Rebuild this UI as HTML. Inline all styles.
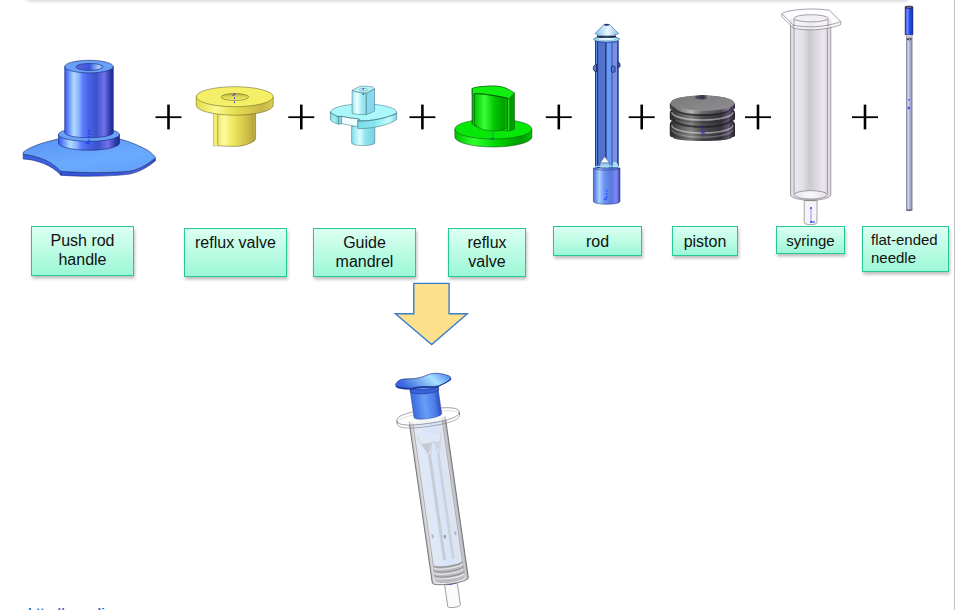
<!DOCTYPE html>
<html><head><meta charset="utf-8">
<style>
html,body{margin:0;padding:0;background:#fff;}
body{width:955px;height:610px;overflow:hidden;position:relative;font-family:"Liberation Sans",sans-serif;}
.topshadow{position:absolute;left:27px;top:-20px;width:881px;height:20px;background:#fff;box-shadow:0 1px 3.5px rgba(0,0,0,0.2);}
.rline{position:absolute;left:953.5px;top:0;width:1.5px;height:610px;background:#c4c4c4;}
.lbl{position:absolute;box-sizing:border-box;border:1.5px solid #24c994;background:linear-gradient(#dcfff2,#9cf8d6);box-shadow:1px 2.5px 3px rgba(0,0,0,0.26);color:#111;font-size:16px;line-height:19px;text-align:center;}
.lbl span{position:absolute;left:0;right:0;}
svg{position:absolute;left:0;top:0;}
.url{position:absolute;left:28px;top:605.5px;line-height:13px;font:bold 13px/13px "Liberation Sans",sans-serif;color:#1a6dc0;white-space:nowrap;}
</style></head><body>
<div class="topshadow"></div>
<div class="rline"></div>

<div class="lbl" style="left:31px;top:226px;width:103px;height:50px;"><span style="top:4px">Push rod<br>handle</span></div>
<div class="lbl" style="left:184px;top:228px;width:103px;height:49px;"><span style="top:4px">reflux valve</span></div>
<div class="lbl" style="left:313px;top:228px;width:103px;height:49px;"><span style="top:4px">Guide<br>mandrel</span></div>
<div class="lbl" style="left:448px;top:228px;width:78px;height:49px;"><span style="top:4px">reflux<br>valve</span></div>
<div class="lbl" style="left:553px;top:226px;width:89px;height:30px;"><span style="top:5px">rod</span></div>
<div class="lbl" style="left:672px;top:226px;width:66px;height:30px;"><span style="top:5px">piston</span></div>
<div class="lbl" style="left:776px;top:226px;width:69px;height:28px;font-size:15px;"><span style="top:4px">syringe</span></div>
<div class="lbl" style="left:862px;top:226px;width:87px;height:46px;font-size:15px;line-height:17.5px;text-align:left;"><span style="top:4px;left:8px">flat-ended<br>needle</span></div>

<svg width="955" height="610" viewBox="0 0 955 610">
<defs>
  <linearGradient id="gBlueCyl" x1="0" x2="1" y1="0" y2="0">
    <stop offset="0" stop-color="#3858e8"/>
    <stop offset="0.04" stop-color="#4a70ff"/>
    <stop offset="0.19" stop-color="#b0dcff"/>
    <stop offset="0.3" stop-color="#8ab0ff"/>
    <stop offset="0.37" stop-color="#5a7cff"/>
    <stop offset="0.48" stop-color="#4a64e8"/>
    <stop offset="0.65" stop-color="#3a54cc"/>
    <stop offset="0.81" stop-color="#7272ec"/>
    <stop offset="0.935" stop-color="#2c3aa8"/>
    <stop offset="1" stop-color="#1a2a90"/>
  </linearGradient>
  <linearGradient id="gBlueTop" x1="0" x2="1" y1="0" y2="1">
    <stop offset="0" stop-color="#5f94f2"/>
    <stop offset="1" stop-color="#7ab0ff"/>
  </linearGradient>
  <linearGradient id="gBlueHole" x1="0" x2="1">
    <stop offset="0" stop-color="#6a66e6"/>
    <stop offset="0.5" stop-color="#3458d8"/>
    <stop offset="0.85" stop-color="#a6d0ff"/>
    <stop offset="1" stop-color="#6a90f0"/>
  </linearGradient>
  <linearGradient id="gFlangeTop" x1="0.2" x2="0.8" y1="0" y2="1">
    <stop offset="0" stop-color="#5a94f4"/>
    <stop offset="0.6" stop-color="#6aaafe"/>
    <stop offset="1" stop-color="#64a2fc"/>
  </linearGradient>
  <linearGradient id="gFlangeRim" x1="0" x2="1">
    <stop offset="0" stop-color="#3454dc"/>
    <stop offset="0.6" stop-color="#3a5ae0"/>
    <stop offset="0.85" stop-color="#5060e4"/>
    <stop offset="1" stop-color="#2a40c0"/>
  </linearGradient>
  <linearGradient id="gYelRim" x1="0" x2="1">
    <stop offset="0" stop-color="#e4dc48"/>
    <stop offset="0.25" stop-color="#fcf890"/>
    <stop offset="0.5" stop-color="#e6de52"/>
    <stop offset="0.85" stop-color="#c8b848"/>
    <stop offset="1" stop-color="#dccc50"/>
  </linearGradient>
  <linearGradient id="gYelCyl" x1="0" x2="1">
    <stop offset="0" stop-color="#e0d850"/>
    <stop offset="0.25" stop-color="#fffca0"/>
    <stop offset="0.45" stop-color="#f0e860"/>
    <stop offset="0.75" stop-color="#d4c44a"/>
    <stop offset="0.95" stop-color="#b8a840"/>
    <stop offset="1" stop-color="#c8b848"/>
  </linearGradient>
  <linearGradient id="gYelHole" x1="0" x2="0" y1="0" y2="1">
    <stop offset="0" stop-color="#b8ae38"/>
    <stop offset="0.5" stop-color="#e0d850"/>
    <stop offset="1" stop-color="#f6f070"/>
  </linearGradient>
  <linearGradient id="gCyanRim" x1="0" x2="1">
    <stop offset="0" stop-color="#7fd9e6"/>
    <stop offset="0.25" stop-color="#c8fbff"/>
    <stop offset="0.55" stop-color="#86e2ee"/>
    <stop offset="0.85" stop-color="#6cc9d8"/>
    <stop offset="1" stop-color="#a8eef6"/>
  </linearGradient>
  <linearGradient id="gGreenRim" x1="0" x2="1">
    <stop offset="0" stop-color="#00c000"/>
    <stop offset="0.25" stop-color="#30ff30"/>
    <stop offset="0.55" stop-color="#00d400"/>
    <stop offset="0.85" stop-color="#009c00"/>
    <stop offset="1" stop-color="#00c000"/>
  </linearGradient>
  <linearGradient id="gGreenRim2" x1="0" x2="1">
    <stop offset="0" stop-color="#00c800"/>
    <stop offset="0.5" stop-color="#00d800"/>
    <stop offset="0.85" stop-color="#20e820"/>
    <stop offset="0.9" stop-color="#009000"/>
    <stop offset="1" stop-color="#00a800"/>
  </linearGradient>
  <linearGradient id="gGreenCyl" x1="0" x2="1">
    <stop offset="0" stop-color="#00c800"/>
    <stop offset="0.3" stop-color="#38ff38"/>
    <stop offset="0.6" stop-color="#00c800"/>
    <stop offset="0.9" stop-color="#00a000"/>
    <stop offset="1" stop-color="#10b810"/>
  </linearGradient>
  <linearGradient id="gRodBody" x1="0" x2="1">
    <stop offset="0" stop-color="#3048b8"/>
    <stop offset="0.12" stop-color="#5f8af0"/>
    <stop offset="0.45" stop-color="#4a6cd8"/>
    <stop offset="0.8" stop-color="#4a62d0"/>
    <stop offset="1" stop-color="#2a3a9a"/>
  </linearGradient>
  <linearGradient id="gCone" x1="0" x2="1">
    <stop offset="0" stop-color="#80c4ee"/>
    <stop offset="0.55" stop-color="#eafaff"/>
    <stop offset="1" stop-color="#8cbcee"/>
  </linearGradient>
  <linearGradient id="gPiston" x1="0" x2="1">
    <stop offset="0" stop-color="#3a3a3c"/>
    <stop offset="0.2" stop-color="#8c8c8c"/>
    <stop offset="0.33" stop-color="#b4b4b4"/>
    <stop offset="0.5" stop-color="#6a6a6c"/>
    <stop offset="0.78" stop-color="#4c4652"/>
    <stop offset="0.9" stop-color="#85769a"/>
    <stop offset="1" stop-color="#322c38"/>
  </linearGradient>
  <linearGradient id="gRingShade" gradientUnits="userSpaceOnUse" x1="0" x2="0" y1="114.5" y2="124.8">
    <stop offset="0" stop-color="#000" stop-opacity="0.55"/>
    <stop offset="0.35" stop-color="#000" stop-opacity="0.25"/>
    <stop offset="0.55" stop-color="#fff" stop-opacity="0.5"/>
    <stop offset="0.72" stop-color="#000" stop-opacity="0.1"/>
    <stop offset="1" stop-color="#000" stop-opacity="0.5"/>
  </linearGradient>
  <linearGradient id="gPistonHole" x1="0" x2="1">
    <stop offset="0" stop-color="#5a4a68"/>
    <stop offset="0.6" stop-color="#3a3840"/>
    <stop offset="1" stop-color="#a8a8aa"/>
  </linearGradient>
  <linearGradient id="gPistonTop" x1="0" x2="1" y1="0" y2="1">
    <stop offset="0" stop-color="#7a7a7c"/>
    <stop offset="1" stop-color="#8e8e90"/>
  </linearGradient>
  <linearGradient id="gGlass" x1="0" x2="1">
    <stop offset="0" stop-color="#dcd8de"/>
    <stop offset="0.1" stop-color="#ebe7ee"/>
    <stop offset="0.3" stop-color="#e4e0e8"/>
    <stop offset="0.48" stop-color="#c9c9cc"/>
    <stop offset="0.6" stop-color="#d8d6da"/>
    <stop offset="0.8" stop-color="#ede5ef"/>
    <stop offset="1" stop-color="#dcd6de"/>
  </linearGradient>
  <linearGradient id="gNeedle" x1="0" x2="1">
    <stop offset="0" stop-color="#9498b4"/>
    <stop offset="0.35" stop-color="#ccd2f0"/>
    <stop offset="0.7" stop-color="#a8a8cc"/>
    <stop offset="1" stop-color="#8a82aa"/>
  </linearGradient>
  <linearGradient id="gNeedleCap" x1="0" x2="1">
    <stop offset="0" stop-color="#1e3ad0"/>
    <stop offset="0.3" stop-color="#6a90ff"/>
    <stop offset="0.55" stop-color="#2a4ee8"/>
    <stop offset="1" stop-color="#1a30b0"/>
  </linearGradient>
  <linearGradient id="gAsmGlass" x1="0" x2="1">
    <stop offset="0" stop-color="#e4e8ee"/>
    <stop offset="0.25" stop-color="#dce8fa"/>
    <stop offset="0.7" stop-color="#d6e4f8"/>
    <stop offset="1" stop-color="#dfe4ec"/>
  </linearGradient>
  <linearGradient id="gAsmWall" x1="0" x2="1">
    <stop offset="0" stop-color="#b8b8bc"/>
    <stop offset="0.1" stop-color="#f0f0f2"/>
    <stop offset="0.88" stop-color="#e8e8ec"/>
    <stop offset="1" stop-color="#a8a8ae"/>
  </linearGradient>
  <linearGradient id="gAsmBlue" x1="0" x2="1">
    <stop offset="0" stop-color="#3a6ae0"/>
    <stop offset="0.45" stop-color="#6a9ef6"/>
    <stop offset="0.8" stop-color="#4a7ce8"/>
    <stop offset="1" stop-color="#2a50c0"/>
  </linearGradient>
  <linearGradient id="gSaddle" x1="0" x2="1" y1="0.3" y2="0">
    <stop offset="0" stop-color="#3a68e0"/>
    <stop offset="0.6" stop-color="#a8e2ff"/>
    <stop offset="1" stop-color="#3c74e8"/>
  </linearGradient>
  <linearGradient id="gRodCyl" x1="0" x2="1">
    <stop offset="0" stop-color="#4a6ad8"/>
    <stop offset="0.22" stop-color="#a8d0ff"/>
    <stop offset="0.42" stop-color="#6a90f0"/>
    <stop offset="0.68" stop-color="#5878e0"/>
    <stop offset="0.86" stop-color="#8088f0"/>
    <stop offset="1" stop-color="#3a48b8"/>
  </linearGradient>
  <linearGradient id="gGlassBot" x1="0" x2="1">
    <stop offset="0" stop-color="#e6e4ea"/>
    <stop offset="0.5" stop-color="#f8f8f8"/>
    <stop offset="1" stop-color="#e8dcea"/>
  </linearGradient>
  <linearGradient id="gCyanCyl" x1="0" x2="1">
    <stop offset="0" stop-color="#80dce8"/>
    <stop offset="0.35" stop-color="#d8ffff"/>
    <stop offset="0.6" stop-color="#90e4ee"/>
    <stop offset="1" stop-color="#78d0e0"/>
  </linearGradient>
  <linearGradient id="gCyanRimL" x1="0" x2="1">
    <stop offset="0" stop-color="#80dce8"/>
    <stop offset="0.5" stop-color="#a8f0f8"/>
    <stop offset="1" stop-color="#70c8d8"/>
  </linearGradient>
  <linearGradient id="gCyanRimR" x1="0" x2="1">
    <stop offset="0" stop-color="#7cdce8"/>
    <stop offset="0.45" stop-color="#8ae6f0"/>
    <stop offset="0.8" stop-color="#c4feff"/>
    <stop offset="1" stop-color="#80d4e4"/>
  </linearGradient>
  <linearGradient id="gCyanBlock" x1="0" x2="1">
    <stop offset="0" stop-color="#98e6f0"/>
    <stop offset="0.35" stop-color="#f0ffff"/>
    <stop offset="0.65" stop-color="#a8eef4"/>
    <stop offset="1" stop-color="#84dae6"/>
  </linearGradient>
  <linearGradient id="gRingShade3" gradientUnits="userSpaceOnUse" x1="0" x2="0" y1="126" y2="141.2">
    <stop offset="0" stop-color="#000" stop-opacity="0.55"/>
    <stop offset="0.25" stop-color="#000" stop-opacity="0.3"/>
    <stop offset="0.45" stop-color="#fff" stop-opacity="0.45"/>
    <stop offset="0.58" stop-color="#000" stop-opacity="0.15"/>
    <stop offset="0.75" stop-color="#fff" stop-opacity="0.25"/>
    <stop offset="1" stop-color="#000" stop-opacity="0.5"/>
  </linearGradient>
</defs>

<!-- plus signs -->
<g stroke="#000" fill="none">
  <g id="plus1"><path d="M155.5 117.2H181.5" stroke-width="1.8"/><path d="M168.5 104.6V129.4" stroke-width="2.6"/></g>
  <use href="#plus1" x="132.8"/>
  <use href="#plus1" x="253.9"/>
  <use href="#plus1" x="390.3"/>
  <use href="#plus1" x="473.2"/>
  <use href="#plus1" x="589.5"/>
  <use href="#plus1" x="696.5"/>
</g>

<!-- Part 1: push rod handle -->
<g stroke="#1a2a70" stroke-width="0.6">
  <!-- flange thickness/front -->
  <path d="M60.8 171.2 C80 173 110 173.2 129.5 171.2 C140 169.5 150 163 155.4 157.9 V160.8 C150 165.5 140 172 129.5 174.1 C110 176.6 80 176.8 60.8 175.2 Z" fill="url(#gFlangeRim)"/>
  <path d="M23.2 154.2 C44 157 54 164 60.8 171.2 V175.2 C52 165 36 159.5 23.2 159 Z" fill="#3a60e6"/>
  <!-- flange top -->
  <path d="M23.2 152.3 C28 148 40 143 58.2 139 C80 135.5 100 135.5 119.9 139.1 C130 141.5 140 146 148 150.5 C151 152.5 153.5 155 155.4 157.3 C150 163 140 169.5 129.5 171.2 C110 173.2 80 173 60.8 171.2 C54 164 44 157 23.2 154.2 Z" fill="url(#gFlangeTop)"/>
  <!-- collar -->
  <path d="M58.5 134.5 V143 A30.5 7.2 0 0 0 119.5 143 V134.5 Z" fill="url(#gBlueCyl)"/>
  <ellipse cx="89" cy="134.5" rx="30.5" ry="6.8" fill="#6aa2fa"/>
  <!-- tall cylinder -->
  <path d="M64.7 66.6 V132.6 A24.3 5.2 0 0 0 113.3 132.6 V66.6 Z" fill="url(#gBlueCyl)"/>
  <ellipse cx="89" cy="66.6" rx="24.3" ry="6.3" fill="#68a0f8"/>
  <ellipse cx="89.5" cy="66.9" rx="13.5" ry="3.5" fill="url(#gBlueHole)"/>
  <path d="M89 130 V142" stroke="#1030ff" stroke-width="1.1" stroke-dasharray="1.6 1.6"/><path d="M85.5 143 H89.5" stroke="#1030ff" stroke-width="1.1"/>
</g>

<!-- Part 2: yellow reflux valve -->
<g stroke="#5a5418" stroke-width="0.5">
  <path d="M213.5 108 V145.8 H219.9 C225 146 230 146.5 237 146.3 C245 146 251 143 255 140.4 L255.6 138 V108 Z" fill="url(#gYelCyl)"/>
  <rect x="213.5" y="108" width="4.3" height="37.8" fill="#f2ee74" stroke="none"/>
  <path d="M217.8 112 V145" stroke="#7a7428" stroke-width="0.6" fill="none"/>
  <path d="M196.2 96.7 V105.2 A38.5 10 0 0 0 273.2 105.2 V96.7 Z" fill="url(#gYelRim)"/>
  <ellipse cx="234.7" cy="96.7" rx="38.5" ry="10" fill="#f5ef68"/>
  <ellipse cx="234.85" cy="97" rx="13.85" ry="3.5" fill="url(#gYelHole)"/>
  <path d="M234.5 93.5 V103" stroke="#2030d0" stroke-width="1" stroke-dasharray="1.6 2.4"/>
  <path d="M232.5 95.5 L235 94.5" stroke="#2030d0" stroke-width="0.9"/>
</g>

<!-- Part 3: cyan guide mandrel -->
<g stroke="#3a6a78" stroke-width="0.5">
  <path d="M351.6 126 V143 A11.6 2.6 0 0 0 374.8 143 V126 Z" fill="url(#gCyanCyl)"/>
  <!-- disc top face -->
  <ellipse cx="363.5" cy="112.5" rx="33.2" ry="8.6" fill="#aaf8fc"/>
  <!-- left rim piece -->
  <path d="M330.3 112 V120 C332 122 335 123.2 338.8 124.2 V116.5 C335 115.5 332 114 330.3 112 Z" fill="url(#gCyanRimL)"/>
  <path d="M338.8 116.5 L341.5 116.3 V124 L338.8 124.2 Z" fill="#90dcf0"/>
  <!-- white notch face -->
  <path d="M341.5 116.3 C347 117.5 353 118.5 359.3 119 L357.8 120.9 V126.7 C352 125.7 346 124.6 341.5 123.3 Z" fill="#f0feff"/>
  <!-- right rim piece -->
  <path d="M357.8 120.9 C370 121.5 388 118 396.7 113.2 V119.4 C390 125 372 128.8 357.8 128.7 Z" fill="url(#gCyanRimR)"/>
  <path d="M330.3 112 C332 114 335 115.5 337.6 116.7 C339 116.3 340 116.2 341.5 116.3 C347 117.5 353 118.5 359.3 119 L357.8 120.9 C370 121.5 388 118 396.7 113.2" fill="none"/>
  <!-- top block -->
  <path d="M366.2 92.9 L374.5 88.8 V111.2 L366.2 114.7 Z" fill="#8ad8ee"/>
  <path d="M352.1 90.3 C355 91.8 360 92.9 366.2 92.9 V114.7 C360 114.7 355 114.3 352.1 113.2 Z" fill="url(#gCyanBlock)"/>
  <path d="M352.1 90.3 L359.7 86.4 C364 86 369 86.2 372.7 87 L374.5 88.8 L366.2 92.9 C360 92.9 355 91.8 352.1 90.3 Z" fill="#b8f4f8"/>
  <ellipse cx="363.4" cy="89.6" rx="4.2" ry="1.2" fill="#d8fcff" stroke="#4a8a98"/>
  <path d="M363.2 88 V97" stroke="#1040f0" stroke-width="1" stroke-dasharray="2 3"/>
</g>

<!-- Part 4: green reflux valve -->
<g stroke="#0a4a0a" stroke-width="0.5">
  <path d="M454.8 129 V137 A38.55 10 0 0 0 531.9 137 V129 Z" fill="url(#gGreenRim)"/>
  <ellipse cx="493.35" cy="129" rx="38.55" ry="10" fill="#08e808"/>
  <!-- back half + slab -->
  <path d="M472.2 88.5 C475 87 480 86.8 485.5 86.3 C490 86 495 85.8 498 86.3 C504 87 509 89 511 92 L514.5 93 V129 C512 130.5 509.5 131 507.5 131 L474.5 126 L472.2 124 Z" fill="url(#gGreenRim2)"/>
  <path d="M472.2 88.5 V95 L507.5 100 L514.5 93 C509 89 504 87 498 86.3 C495 85.8 490 86 485.5 86.3 C480 86.8 475 87 472.2 88.5 Z" fill="#10f010"/>
  <path d="M507.5 99 V131" fill="none" stroke="#0a5a0a" stroke-width="0.6"/>
  <!-- front half -->
  <path d="M474.5 93.5 V124 C478 129 486 131 493 131 C499 131 504 130 507.5 128 V98 C500 96.5 488 94 474.5 93.5 Z" fill="url(#gGreenCyl)"/>
  <path d="M474.5 93.5 C486 94 500 96.5 507.5 98.5" fill="none" stroke="#064006" stroke-width="0.7"/>
  <path d="M472.2 88.5 V124" fill="none"/>
  <path d="M493 132 V139" stroke="#1040c0" stroke-width="0.8" stroke-dasharray="1.2 1.2"/>
  <path d="M490.5 139 H494" stroke="#1040c0" stroke-width="0.9"/>
</g>

<!-- Part 5: rod -->
<g>
  <rect x="595.3" y="41" width="23.2" height="127" fill="#5272cc"/>
  <rect x="595.3" y="41" width="2" height="127" fill="#5a90e8"/>
  <rect x="606.4" y="41" width="4.8" height="127" fill="#6a9af8"/>
  <rect x="611.2" y="41" width="1.8" height="127" fill="#5870b0"/>
  <rect x="613" y="41" width="4.4" height="127" fill="#7a8ef0"/>
  <g fill="#1a2660">
    <rect x="595" y="41" width="0.8" height="127"/>
    <rect x="597.2" y="41" width="0.9" height="127"/>
    <rect x="605.3" y="41" width="1.1" height="127"/>
    <rect x="617.4" y="41" width="1.1" height="127"/>
  </g>
  <g fill="#5a78d8" stroke="#101c50" stroke-width="0.8">
    <path d="M596.5 64.4 C594 64.6 593.3 67 593.3 68.5 C593.3 70.5 594.5 71.5 596.5 71.5 Z"/>
    <path d="M611.4 67 C611.4 65.8 615 65.8 615 67 V71.5 C615 72.5 611.4 72.5 611.4 71.5 Z"/>
    <path d="M618.2 62 C619.5 62.2 620.1 64 620.1 65 C620.1 66.8 619.5 67.7 618.2 67.7 Z"/>
  </g>
  <ellipse cx="606.6" cy="39.3" rx="13.1" ry="2.8" fill="#9ee0f2" stroke="#23347a" stroke-width="0.6"/>
  <ellipse cx="606.6" cy="39" rx="9.5" ry="1.6" fill="#e0f6ff" stroke="#5a9ac0" stroke-width="0.4"/>
  <path d="M596 41.5 C600 43 613 43 618 41.5" stroke="#3a5ac0" stroke-width="1" fill="none"/>
  <path d="M597 36 C600 37.5 613 37.5 616 36" stroke="#101c40" stroke-width="1.4" fill="none"/>
  <path d="M595 33.6 L603.8 24.6 C605 24 608.5 24 609.7 24.6 L618.6 33.6 C614 36.5 599 36.5 595 33.6 Z" fill="url(#gCone)" stroke="#2a4a8a" stroke-width="0.5"/>
  <ellipse cx="606.75" cy="24.8" rx="2.9" ry="0.9" fill="#1a2a70"/>
  <path d="M600 163 L604.8 156.6 L609.4 163 Z" fill="#f4fbff" stroke="#2a3a7a" stroke-width="0.4"/>
  <rect x="600" y="163" width="9.4" height="5.5" fill="#9ec8f0" stroke="#2a3a7a" stroke-width="0.4"/>
  <path d="M613 162 C616 161 618 163 618.5 167 H613 Z" fill="#a0e0f0"/>
  <path d="M593.4 168 V201.5 A13.3 2.8 0 0 0 620 201.5 V168 Z" fill="url(#gRodCyl)" stroke="#1a2a6a" stroke-width="0.5"/>
  <path d="M593.4 168 A13.3 2.2 0 0 0 620 168" fill="none" stroke="#2a3a8a" stroke-width="0.6"/>
  <path d="M594 167.5 A13 2 0 0 1 619.4 167.5" fill="none" stroke="#a8e4f4" stroke-width="1.2"/>
  <path d="M606.8 190 V199" stroke="#1030ff" stroke-width="1" stroke-dasharray="1.5 1.5"/>
  <path d="M604 199 H607" stroke="#1030ff" stroke-width="1"/>
</g>

<!-- Part 6: piston -->
<g>
  <path d="M674.30 116.8 V121.5 A28.10 7.70 0 0 0 730.50 121.5 V116.8 A28.10 7.70 0 0 0 674.30 116.8 Z" fill="#2e2c32"/>
  <path d="M674.30 118.80 C671.38 120.90 669.80 122.40 669.80 124.80 V134.80 C669.80 136.55 671.30 137.30 672.80 137.30 A29.60 3.70 0 0 0 732.00 137.30 C733.50 137.30 735.00 136.55 735.00 134.80 V124.80 C735.00 122.40 733.42 120.90 730.50 118.80 A28.10 7.70 0 0 0 674.30 118.80 Z" fill="url(#gPiston)"/>
  <path d="M674.30 118.80 C671.38 120.90 669.80 122.40 669.80 124.80 V134.80 C669.80 136.55 671.30 137.30 672.80 137.30 A29.60 3.70 0 0 0 732.00 137.30 C733.50 137.30 735.00 136.55 735.00 134.80 V124.80 C735.00 122.40 733.42 120.90 730.50 118.80 A28.10 7.70 0 0 0 674.30 118.80 Z" fill="#000" fill-opacity="0.28"/>
  <path d="M671.80 125.3 A30.60 7.7 0 0 0 733.00 125.3" fill="none" stroke="#fff" stroke-width="1.6" stroke-opacity="0.45"/>
  <path d="M671.80 129.5 A30.60 7.7 0 0 0 733.00 129.5" fill="none" stroke="#fff" stroke-width="1.2" stroke-opacity="0.25"/>
  <path d="M671.80 132.0 A30.60 7.7 0 0 0 733.00 132.0" fill="none" stroke="#000" stroke-width="1.0" stroke-opacity="0.2"/>
  <path d="M674.30 105.8 V110.5 A28.10 7.70 0 0 0 730.50 110.5 V105.8 A28.10 7.70 0 0 0 674.30 105.8 Z" fill="#2e2c32"/>
  <path d="M674.30 107.30 C671.38 109.40 669.80 110.90 669.80 113.30 V118.30 C669.80 120.05 671.30 120.80 672.80 120.80 A29.60 3.70 0 0 0 732.00 120.80 C733.50 120.80 735.00 120.05 735.00 118.30 V113.30 C735.00 110.90 733.42 109.40 730.50 107.30 A28.10 7.70 0 0 0 674.30 107.30 Z" fill="url(#gPiston)"/>
  <path d="M674.30 107.30 C671.38 109.40 669.80 110.90 669.80 113.30 V118.30 C669.80 120.05 671.30 120.80 672.80 120.80 A29.60 3.70 0 0 0 732.00 120.80 C733.50 120.80 735.00 120.05 735.00 118.30 V113.30 C735.00 110.90 733.42 109.40 730.50 107.30 A28.10 7.70 0 0 0 674.30 107.30 Z" fill="#000" fill-opacity="0.28"/>
  <path d="M671.80 112.3 A30.60 7.7 0 0 0 733.00 112.3" fill="none" stroke="#fff" stroke-width="1.6" stroke-opacity="0.45"/>
  <path d="M671.80 114.6 A30.60 7.7 0 0 0 733.00 114.6" fill="none" stroke="#000" stroke-width="1.0" stroke-opacity="0.25"/>
  <path d="M670.60 103.00 C670.08 103.28 669.80 103.48 669.80 103.80 V107.50 C669.80 109.25 671.30 110.00 672.80 110.00 A29.60 3.70 0 0 0 732.00 110.00 C733.50 110.00 735.00 109.25 735.00 107.50 V103.80 C735.00 103.48 734.72 103.28 734.20 103.00 A31.80 7.70 0 0 0 670.60 103.00 Z" fill="url(#gPiston)"/>
  <path d="M673.30 107.6 A29.10 7.7 0 0 0 731.50 107.6" fill="none" stroke="#1a1a1e" stroke-width="1.6" stroke-opacity="0.7"/>
  <path d="M673.30 119.2 A29.10 7.7 0 0 0 731.50 119.2" fill="none" stroke="#1a1a1e" stroke-width="1.8" stroke-opacity="0.7"/>
  <ellipse cx="702.4" cy="102.9" rx="31.8" ry="7.5" fill="url(#gPistonTop)"/>
  <path d="M670.8 103.5 A31.6 7.2 0 0 0 734.0 103.5" fill="none" stroke="#a8a8a8" stroke-width="0.6" opacity="0.7"/>
  <ellipse cx="702.2" cy="97.2" rx="7.5" ry="2.2" fill="url(#gPistonHole)"/>
  <path d="M702.2 127 V133" stroke="#2020ff" stroke-width="0.9" stroke-dasharray="1.2 1.2"/>
  <path d="M701.5 133 H705" stroke="#2020ff" stroke-width="0.9"/>
</g>

<!-- Part 7: syringe -->
<g stroke="#6e6874" stroke-width="0.6">
  <path d="M804.2 199 V222.5 A6.4 2.2 0 0 0 817 222.5 V199 Z" fill="#f6f4f8"/>
  <path d="M790.5 20 V195.2 A20.2 5.5 0 0 0 830.8 195.2 V20 Z" fill="url(#gGlass)"/>
  <path d="M794.1 24 V194 M827.4 24 V194" fill="none"/>
  <ellipse cx="810.7" cy="194.8" rx="16.6" ry="4.2" fill="url(#gGlassBot)"/>
  <path d="M805 200.5 H816.5" stroke="#8a8a8a" stroke-width="1.2"/>
  <path d="M781.9 13.6 C784 11 800 9 811.5 9 C818 9 825 9.4 829.6 10.3 L840.7 21.5 V24.5 C836 27 822 29.8 811.5 29.8 C804 29.8 797 29 793.3 28.2 L781.9 16.6 Z" fill="#fbfafc" fill-opacity="0.7" stroke="none"/>
  <path d="M781.9 13.6 C784 11 800 9 811.5 9 C818 9 825 9.4 829.6 10.3 L840.7 21.5 C836 24 822 26.8 811.5 26.8 C804 26.8 797 26 793.3 25.2 Z" fill="none"/>
  <path d="M781.9 13.6 V16.6 L793.3 28.2 C797 29 804 29.8 811.5 29.8 C822 29.8 836 27 840.7 24.5 V21.5 M793.3 25.2 V28.2" fill="none"/>
  <path d="M794 18.3 V26 M828 18.3 V26" fill="none"/>
  <ellipse cx="811" cy="18.3" rx="17" ry="3.6" fill="#f2f0f4"/>
  <path d="M811 208 V222" stroke="#7070ff" stroke-width="0.7"/>
  <circle cx="811" cy="208" r="0.9" fill="#2030ff" stroke="none"/>
  <circle cx="811" cy="222" r="0.9" fill="#2030ff" stroke="none"/>
  <path d="M811 222 H815" stroke="#2030ff" stroke-width="1"/>
</g>

<!-- Part 8: needle -->
<g>
  <rect x="906.3" y="35" width="5.8" height="175" fill="url(#gNeedle)" stroke="#55556a" stroke-width="0.4"/>
  <path d="M906 209.5 A3.1 1.2 0 0 0 912.2 209.5" fill="#6a6a80" stroke="#444" stroke-width="0.5"/>
  <rect x="906.5" y="35" width="5.4" height="2.5" fill="#c8c8d4"/>
  <ellipse cx="909.2" cy="39.2" rx="2.3" ry="1" fill="#222" />
  <ellipse cx="909.5" cy="39.2" rx="1" ry="0.5" fill="#ddd" />
  <rect x="905" y="7" width="8" height="27.8" fill="url(#gNeedleCap)" stroke="#1a1a50" stroke-width="0.4"/>
  <ellipse cx="909" cy="7.2" rx="4" ry="1.3" fill="#3a3a48" stroke="#111" stroke-width="0.4"/>
  <ellipse cx="909" cy="7.5" rx="2.4" ry="0.7" fill="#5a6ab0"/>
  <path d="M909 99 V108" stroke="#2020ff" stroke-width="1.1" stroke-dasharray="1.5 6"/>
  <path d="M907.8 107.8 L909.5 109" stroke="#2020ff" stroke-width="1.2"/>
</g>

<!-- down arrow -->
<path d="M413.8 283.4 H449.1 V313.7 H467.3 L431.7 344.5 L395.4 313.7 H413.8 Z" fill="#fde08c" stroke="#3b7ccc" stroke-width="1.4" stroke-linejoin="miter"/>

<!-- assembled syringe -->
<g transform="translate(427.75,425) rotate(-8.17)">
  <!-- nozzle -->
  <path d="M-6 158 V182.5 A6.4 1.8 0 0 0 6.8 182.5 V158 Z" fill="#fafafa" stroke="#6a6a6e" stroke-width="0.6"/>
  <ellipse cx="0.4" cy="160" rx="6" ry="1.5" fill="#3050a0"/>
  <!-- barrel outer -->
  <path d="M-18 -6 V157 A18 3.5 0 0 0 18.5 157 V-6 Z" fill="url(#gAsmWall)" stroke="none"/>
  <path d="M-18 -6 V157 A18 3.5 0 0 0 18.5 157 V-6" fill="none" stroke="#55555c" stroke-width="0.7"/>
  <!-- interior -->
  <path d="M-14.5 -4 V153 A14.5 3 0 0 0 15 153 V-4 Z" fill="url(#gAsmGlass)" stroke="none"/>
  <path d="M-14.5 -4 V153 M15 153 V-4" fill="none" stroke="#8a8a92" stroke-width="0.6"/>
  <!-- internal rod -->
  <path d="M-4 30 V136 H-1 V30 Z" fill="#c8ccd4"/>
  <path d="M5 30 V136 H7.5 V30 Z" fill="#ccd0d8"/>
  <path d="M-12 10 L-9 18 L-3 30 H-1 L1 18 H5 L5.5 30 H7.5 L10 18 L12 10" fill="#dfe7f4" stroke="#c0c4cc" stroke-width="0.6"/>
  <path d="M-9 18 L-3 29 L1 18 Z" fill="#c6cad2"/>
  <path d="M5 18 L6.5 27 L10 18 Z" fill="#cfd3da"/>
  <!-- piston rings -->
  <path d="M-14.5 139 A14.5 3 0 0 0 15 139 V156 A14.5 3 0 0 1 -14.5 156 Z" fill="#bcbcc0"/>
  <path d="M-14.5 140 A14.5 3 0 0 0 15 140 M-14.5 145 A14.5 3 0 0 0 15 145 M-14.5 150 A14.5 3 0 0 0 15 150" fill="none" stroke="#7a7a80" stroke-width="0.7"/>
  <path d="M-14 142.5 A14.5 3 0 0 0 14.5 142.5 M-14 147.5 A14.5 3 0 0 0 14.5 147.5 M-14 152.5 A14.5 3 0 0 0 14.5 152.5" fill="none" stroke="#ececee" stroke-width="1"/>
  <!-- small nubs -->
  <ellipse cx="1" cy="113" rx="1.3" ry="2" fill="#9aa4b8"/>
  <ellipse cx="-11" cy="111" rx="1" ry="2" fill="#aab4c4"/>
  <ellipse cx="12" cy="111" rx="1" ry="2" fill="#aab4c4"/>
  <!-- flange -->
  <path d="M-30 -5.5 C-30 -11 -15 -12.5 1.5 -12.5 C18 -12.5 33 -11 33 -5.5 C33 0 18 1.5 1.5 1.5 C-15 1.5 -30 0 -30 -5.5 Z" fill="none" stroke="#80808a" stroke-width="0.6"/>
  <path d="M-30 -8.5 C-30 -14 -15 -15.5 1.5 -15.5 C18 -15.5 33 -14 33 -8.5 C33 -3 18 -1.5 1.5 -1.5 C-15 -1.5 -30 -3 -30 -8.5 Z" fill="#ffffff" fill-opacity="0.55" stroke="#6a6a72" stroke-width="0.6"/>
  <path d="M-30 -8.5 V-5.5 M33 -8.5 V-5.5" stroke="#6a6a72" stroke-width="0.6"/>
  <!-- plunger -->
  <path d="M-12.5 -38 V-9 A14 3 0 0 0 15.4 -9 V-38 Z" fill="url(#gAsmBlue)" stroke="#304898" stroke-width="0.5"/>
</g>
<!-- saddle -->
<path d="M410 388 C420 390.5 432 390 438.5 386.5 L438.8 390.5 C430 394 418 395 410.5 392.5 Z" fill="#3a62d8" stroke="#1a2a80" stroke-width="0.5"/>
<path d="M395.5 385.9 L397.3 387.7 C402 389 407 389.5 412 389.2 C416 388 420 387.5 423 387.4 C428 387.5 434 387.5 437.7 387 C443 384 448 382 450.8 379.7 L450.8 378.6 Z" fill="#2848c0" stroke="#10207a" stroke-width="0.6"/>
<path d="M395.5 384.8 C396.5 382 399 380 401.7 379.3 C406 378.6 410 379 414.2 378.6 C418 378 420 377.5 423 376.7 C426 375.5 428 374.5 431 373.8 C435 373 438 373.2 441.3 373.8 C445 374.5 448 375.5 449.4 376 C450.5 377 450.8 377.8 450.8 378.6 C448 382 443 384 437.7 386 C434 386.8 428 386.6 423 386.5 C420 386.6 416 387.2 412 388.2 C407 388.5 402 388 397.3 386.8 Z" fill="url(#gSaddle)" stroke="#10207a" stroke-width="0.6"/>
</svg>
<div class="url">http://www.li</div>
</body></html>
